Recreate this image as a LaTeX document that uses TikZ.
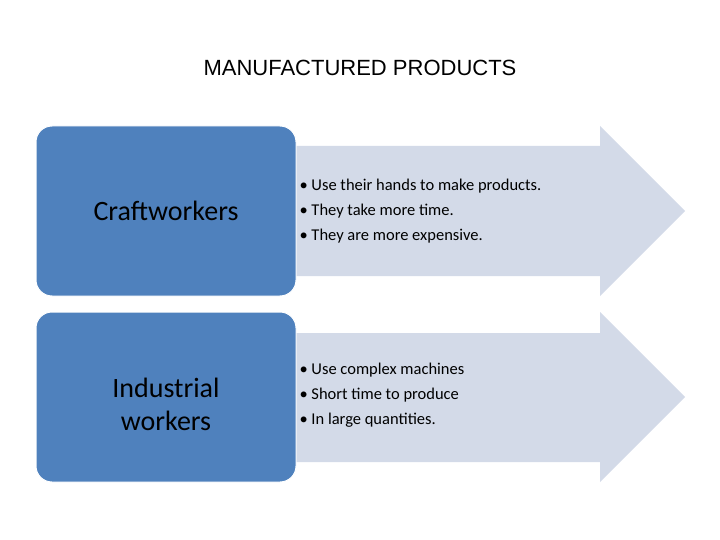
\documentclass[tikz,border=0pt]{standalone}
\usepackage{fontspec}
\setmainfont{Carlito}
\newfontfamily\arialf{Liberation Sans}
\definecolor{boxblue}{HTML}{4F81BD}
\definecolor{arrowbg}{HTML}{D3DAE8}
\begin{document}
\begin{tikzpicture}[x=1pt,y=-1pt,
  lbox/.style={fill=boxblue,draw=white,line width=1pt,rounded corners=16pt},
  arr/.style={fill=arrowbg,draw=none},
  lbl/.style={font=\fontsize{28}{33}\selectfont,align=center,text=black},
  bul/.style={font=\fontsize{16.5}{25}\selectfont,align=left,anchor=west,text=black}]
\useasboundingbox (0,0) rectangle (720,540);
\node[font=\arialf\fontsize{22}{26}\selectfont] (title) at (360,68) {MANUFACTURED PRODUCTS};
% top
\fill[arr] (280,146) -- (600,146) -- (600,126) -- (685,211) -- (600,296) -- (600,276) -- (280,276) -- cycle;
\draw[lbox] (36,126) rectangle (296,296);
\node[lbl] (c) at (166,211) {Craftworkers};
\node[bul] (cb) at (296,211) {• Use their hands to make products.\\• They take more time.\\• They are more expensive.};
% bottom
\fill[arr] (280,333) -- (600,333) -- (600,312) -- (685,397) -- (600,482) -- (600,462) -- (280,462) -- cycle;
\draw[lbox] (36,312) rectangle (296,482);
\node[lbl,text depth=0pt] (i) at (166,404) {Industrial\\workers};
\node[bul,anchor=north west,font=\fontsize{16.5}{25}\selectfont] (ib) at (296,360) {• Use complex machines\\• Short time to produce\\• In large quantities.};
\end{tikzpicture}
\end{document}
